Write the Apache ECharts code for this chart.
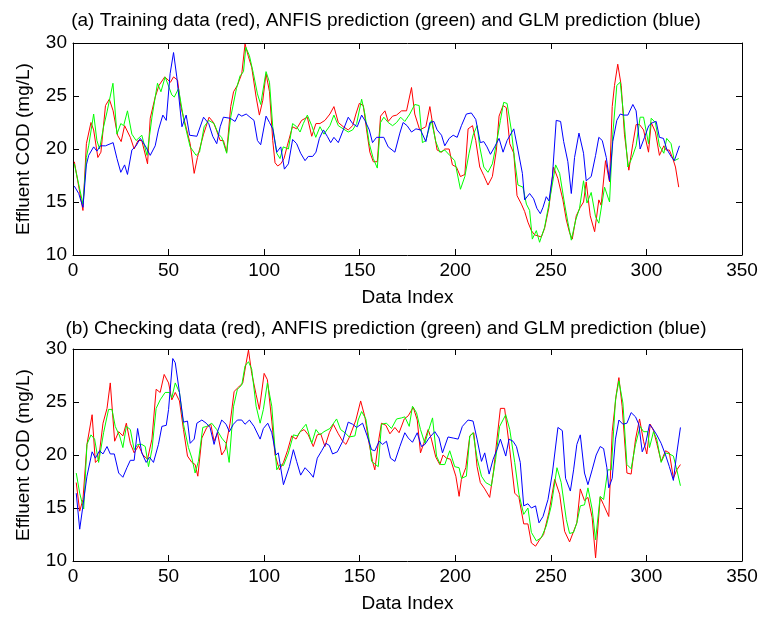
<!DOCTYPE html>
<html><head><meta charset="utf-8">
<script src="https://cdn.jsdelivr.net/npm/echarts@6/dist/echarts.min.js"></script>
<style>html,body{margin:0;padding:0;background:#fff}#c{width:772px;height:618px}</style>
</head><body><div id="c"></div>
<script>
// ---------- (a) Training data ----------
const trRedX=[0.7,5.2,7,9.4,10.8,13,14.6,17,19,21,23.3,25.2,27,28,30,32,34,36,39,40.4,43,45,48,51,52.6,54.7,56.4,59.5,61.3,63.4,65.1,68.3,71.2,73.5,75,77,78.7,80.4,82.5,84,86,88.3,90,91.8,93.5,95.8,97.5,99.3,101,102.8,104.5,105.7,107.1,108.7,110.4,112.1,114.8,117,119.6,122.6,124.9,127.1,129.2,131.8,134.4,136.5,138.8,141.4,144,146.3,148,149.8,151.9,153.6,155.3,157.1,159.2,160.9,163.2,164.9,167.2,169.3,171.9,174.5,177.1,178.8,181.4,184.6,186.7,188.4,190.5,192.8,194.5,196.8,198.5,200.6,202.7,205,206.7,209,210.7,212.8,214.9,217.1,219.4,221.5,222.9,225,226.7,228.5,230.6,232.3,234.6,236.3,238,239.8,241.5,243.3,245,246.7,249,251.4,253.7,256.3,258.1,259.8,261.2,263.3,265.4,267.1,268.5,270.6,272.9,275.1,276.3,278.6,280.7,282.1,283.3,285,286.8,288.5,290.8,292.9,294.6,296.4,298.5,301.1,302.5,304.7,306.8,309.1,310.3,312,313.8,315.2,316.9];
const trRedY=[18.8,14.2,20.5,22.5,21.8,19.2,19.7,24.1,24.7,23.6,21.3,20.7,22.2,22.1,21.1,20,20.8,20.8,18.6,22.9,24.9,26,26.8,26.3,26.8,26.5,24,21.8,20.5,17.7,19.2,21.4,23,22.5,21.8,20.8,20.8,19.7,24,25.4,26,27.1,29.9,28.7,27.7,24.9,23.2,24.6,27.1,25.4,20.8,18.7,18.4,18.6,19.1,20.3,22.1,21.9,22.7,23,21.2,22.4,22.4,22.7,23.3,24,22.5,22.1,21.8,22.2,23.3,24.3,24.1,21.8,19.7,18.8,18.8,23.1,23.6,22.6,23.1,23.2,23.6,23.6,25.8,23.3,21.8,22.1,24,22.1,19.9,19.7,20,20,18.5,18.3,17.4,17.6,21.9,22.2,20.8,18.3,17.5,16.6,17.4,19.9,23.1,24.1,23.9,20.5,19.6,15.6,14.8,14.1,13.1,12.3,11.9,11.8,11.7,12.5,14.5,18.3,17.2,15.2,13.3,12.1,11.5,13.7,14.5,15,16.9,13.7,12.2,15.2,14.7,18.9,16.9,24,26,28,26,21.4,18,20.5,22.3,22.3,21.8,19.7,22.5,21.6,19.4,20.3,19.9,19.9,19.1,18.3,16.4];
const trGreenX=[0.7,5.2,7,8.2,10.8,12.5,13.9,16,17.8,20.9,23,25,26.5,28.5,30.8,33,36,38.7,41.3,44.2,46,48.2,51.7,53,55.2,58,61.3,64.4,66.2,68.6,71,73.8,76.1,77.8,80.4,82.5,85.5,87.4,89.2,90.4,92.3,94.4,96.5,98.2,101,102.8,104.5,106.6,108.3,110,112.7,114.9,117,118.8,120.5,122.6,124.9,127,129.2,131.3,134.4,136.5,138.8,141.4,144,146.3,148.4,151,152.7,155,157.1,159.2,160.9,162.6,164.9,167.2,169.3,171.4,173.6,176.2,178.8,181.1,182.8,184.6,187.5,189.8,191.9,194.5,197.1,199.7,202.7,205,207.2,209.3,211.4,212.8,214.9,217.1,219.4,221.5,223.6,225.3,227.1,229.3,231.1,232.8,235.4,237.2,238.9,240.3,242.4,244.1,246.7,249,252.5,254.6,257.2,258.9,260.7,263,265,267.1,268.9,271.1,273.4,275.1,278.1,280.7,282.4,284.5,286.3,288,290.3,292.5,294.6,296.7,298.5,301.1,302.5,304.7,306.8,309.1,310.6,312.9,314.6,316.9];
const trGreenY=[18.6,14.8,19.2,20.3,23.3,20.8,20,22.1,23.5,26.2,21.4,22.4,22.2,23.6,21.4,20.8,21.3,19.4,23,26.2,25.4,26.8,25.1,24.9,25.7,22.7,20.2,19.4,19.7,22.1,22.7,22.4,21.4,21.1,19.6,23,25.7,26.9,27.3,29.6,28.8,27.1,25.2,24.2,27.3,26.3,22.1,19.6,19.1,20.2,20,22.4,22.1,21.6,22.4,23.2,22.2,21.1,22.1,21.4,22.2,23.2,22.2,21.9,21.6,21.8,22.4,24.7,23.3,20.5,19.1,18.2,22.5,23,22.5,22.2,22.5,23,22.6,23.3,24.2,24.1,20.6,20.8,22.7,20.7,19.7,19.9,19.4,18.9,16.2,17.4,19.6,21.3,22.2,20.2,18.3,17.8,18.6,20.5,22.7,24.4,24.3,21.8,18.9,16.6,16.4,14.8,14.2,11.5,12.3,11.2,12.6,14.8,18.5,17.7,14.8,13.1,11.4,13.3,14.4,17,14.9,15.9,13.6,13,16.4,15,21.4,26,26.3,23.3,18.3,19.2,20.3,23,23,20.5,22.9,22.5,20.3,19.6,21,20.5,18.9,19.1];
const trBlueX=[0.7,3,5.2,7,8.2,10.8,12.5,14.3,17,21,23,25,27,28.5,30.8,33,35.2,37.8,40.4,43,44.7,47,48.8,50.8,52.6,54.3,57,59.2,61,64.8,68.3,71,73.1,75.2,77,78.7,82.2,84.8,86.6,88.3,90.6,92.6,94.7,96.5,98.2,101,102.8,104.5,106.6,108.7,110.6,112.7,114.9,117,119.1,121.4,123.1,125.4,127.1,128.9,131,133,134.8,136.5,138.8,141.4,144,146.3,148.7,151,152.7,155,156.7,158.8,162.6,164.9,168.4,171,172.7,174.8,177.1,179.4,181.8,184.6,186.7,188.8,190.5,192.8,194.5,196.8,198.9,201,203.2,205.8,208.4,210.7,213.1,214.9,216.6,218.4,220.6,222.9,225,227.1,230.6,232.8,235.1,236.3,238.9,241,242.7,244.5,245.9,247.6,249,250.8,252.8,255.1,256.7,258.9,260.7,262.4,264.7,267.1,268.5,271.1,273.4,275.1,276.9,279,280.7,282.4,284.5,286.3,288,290.3,292.9,294.6,296.7,299,301.2,303.3,305.1,306.8,308.9,310.6,312.9,314.6,317.3];
const trBlueY=[16.5,15.8,14.5,18.5,19.4,20.2,19.8,20.3,20.3,20.6,19.1,17.8,18.5,17.6,19.9,20.3,21,20.3,19.4,20.3,21.8,23.2,22.7,27.1,29.1,26.8,22.1,23.2,21.3,21.2,23,22.4,21.2,20.5,22.1,23,22.9,22.6,23.3,23.1,23.3,23,22.7,20.8,20.4,23.1,22.5,21.9,19.7,20.2,18.1,18.6,20.9,20.5,19.6,18.9,19.3,19.3,19.7,21,21.8,21.2,20.6,21.1,20.6,21.8,23,22.4,22.1,23.2,22.7,21.8,20.6,21.1,21.1,20.2,19.7,21.5,22.5,22.2,21.6,21.9,21.8,20.7,22.5,22.6,21.8,21.3,20.3,21,21.3,21.1,22.2,23.3,23.4,22.8,20.6,20.7,20.2,19.5,20.2,21,19.7,20.8,21.9,19.9,17.7,15.2,15.8,15.3,14.4,13.9,14.5,15.5,15.1,17.4,22.7,22.6,20.7,18.8,15.8,19.2,21.5,19.6,17,17.4,19.4,21.1,20.8,19.2,17,20.7,22.7,23.3,23.2,23.2,24.2,23.6,20,21.1,22.2,22.5,22.6,21.1,21,20,19.3,18.9,20.3];

// ---------- (b) Checking data ----------
const ckRedX=[1.7,3.5,5.2,7.3,10,11.7,13.4,15.7,17.8,19.5,21.8,23.9,26.1,27.9,30,32,34.3,36.6,39,41.3,43.5,45.6,47.7,50,51.7,53.5,55.7,57.8,59.9,62.2,63.9,65.3,67.4,70,72.1,73.8,75.6,77.8,79.6,82.2,84.3,86.6,88.8,90.6,91.8,93.5,95.8,97.5,100,101.7,104,105.7,108,110.1,112.2,114.4,116.7,118.8,120.9,123.1,125.7,127.8,129.6,131.8,134.1,136.2,138.8,141.1,142.8,144.9,148,150.5,152.7,155,156.7,157.9,160,161.4,163.7,165.8,168.4,170.6,173.3,175.4,178,180.1,181.8,183.5,185.8,187.5,189.8,191.9,193.6,195.4,197.5,200.3,202,203.2,205.5,207.6,209.7,211.4,213.1,215.4,218,220.1,221.8,223.6,225.8,228.5,231.1,233.3,235.8,238,239.8,242,244.1,246.2,249,252,254.6,257.2,259.8,261.9,263.6,265.4,267.6,269.4,271.6,273.4,275.8,277.6,280.3,282.1,284.2,285.6,287.3,289.8,292,294.3,296.4,298.5,300.2,302,303.7,305.4,307.7,310,312,314.1,315.9,317.8];
const ckRedY=[17.4,14.7,15.8,21,23.8,19.3,19.6,23,24.4,26.8,21.3,22.2,21.8,23,21.1,20.2,20.9,20,19.6,21.5,26.2,25.9,27.6,26.8,25.2,25.9,25.1,22.4,19.9,19.3,19.1,18,21.6,22.6,22.9,21.3,22.1,20,20.5,23,26,26.4,26.8,28.7,29.9,27.7,25.7,24.3,27.7,27.1,23.2,20,18.6,19.3,20.4,21.8,21.5,22.2,22.4,21.9,20.8,21.9,22,20.8,22.1,22.9,22,21.3,21,21.8,23.3,25.1,23.6,21,19.4,18.6,21.5,23,22.8,22,22.6,22.1,23.4,23.7,24.5,23.3,20.2,21.1,22.4,21.5,19.8,19.1,20,19.7,19.6,18,16.1,17.7,18.8,21.8,22.1,18.9,17.4,16.8,16,18.6,21.5,24.4,24.4,20.5,16.4,16,13.5,13.5,11.7,11.4,12,12.5,14.6,17.7,16.3,12.8,11.8,12.8,13.6,16.8,15.7,16,14.1,10.3,16,15.3,14.2,22.2,25.7,27.3,24.6,18.3,18.2,21.5,23.4,21.3,20.1,22.9,22.3,21.1,19.4,20.4,20.2,17.8,18.6,19.1];
const ckGreenX=[1.7,3.5,5.6,7.3,9.4,11.3,13.4,16,18.6,20.4,22.1,24.4,26.1,27.9,30,32,33.8,36,37.8,39.5,41.3,43.5,45.6,48.2,50.5,51.7,53.5,55.7,57.8,60.4,62.2,63.9,65.6,67.9,70,72.6,75.2,77.8,80.1,81.7,84,86,88.3,90,91.8,93.5,95.8,97.9,99.6,101.7,104,105.7,106.6,108.3,110.1,112.7,115.3,117.4,119.6,121.9,124.9,127.1,129.2,131.3,134.4,137.9,140,142.3,144.5,147.5,149.2,151,153.2,155.3,156.2,159.7,161.4,164,166.6,169.3,171.9,173.6,175.9,177.6,179.7,181.8,184.1,185.8,188.1,190.2,192.2,194.5,197.1,199.7,202,203.2,205.8,207.6,209.3,211.4,213.7,215.9,218.9,221.1,223.2,226.4,228.5,231.1,233.3,235.8,238,239.8,242.4,245,247.6,250.2,253.2,255.4,258.1,259.8,261.9,263.6,265.4,267.6,269.4,271.6,273.4,275.8,277.6,279.8,281.6,283.8,285.6,287.7,289.8,292,294.3,296.7,298.5,300.7,301.6,303.7,305.4,307.7,310,312,314.1,315.9,317.8];
const ckGreenY=[18.3,16.4,14.9,21,21.9,21.5,19.3,22.1,24.3,24.3,22.7,21.8,20.7,22.7,22.4,20.5,21,21,20.8,18.9,20.5,24.4,25.2,25.9,25.9,25.4,26.8,25.9,22.9,20.7,19.7,18.3,19.4,22.6,22.7,23,22.4,21.6,21.1,19.3,24.6,26.2,26.6,28.4,28.8,28.1,24.6,23,24.3,26.8,24.6,20.5,18.6,19.1,19,20.2,21.9,21.8,22.4,22.9,21.1,22.4,21.9,22.2,22.5,23.4,22.4,22.1,21.7,21.8,23.3,24.1,23.4,21,19.4,18.9,22.9,23,22.5,23.4,23.5,23.6,22.7,24.6,24,22.4,21.1,22.2,23.5,19.9,19.1,19.1,20.4,18.9,18.8,17.8,18,21.8,22.1,19.7,18,17.4,17.1,19.6,22.7,23.8,22.4,19.3,16.3,14.4,15,12.7,11.9,12.2,13.3,15.2,18.8,17.4,13.9,12.6,12.7,13.6,15.2,15.3,16.9,14.9,12,16.1,15.8,18.6,18.6,25.2,27,24.9,19.1,18.7,21,22.7,22.2,22.2,20.7,22.2,21.5,19.3,20.2,20.1,19.9,18.6,17.1];
const ckBlueX=[1.7,3.5,5.2,7.3,10,11.7,13.9,15.7,17.8,19.5,21.6,23.9,26.1,28.2,30,32,33.8,36,38.3,40,42.1,44.7,46.5,48.8,50,52.2,53.5,55.7,57.8,59.9,61.3,63.4,64.8,67.4,69.7,71.7,73.8,75.6,77.8,80.1,81.8,83.9,86,88.3,90,92.3,94.7,97.9,99.6,101.9,104,106.2,107.4,110.1,113.2,115.3,117,119.1,121.4,124,125.7,127.8,130.1,132.3,134.1,135.8,138.3,141.1,144,146.3,148.4,151.5,153.9,156.2,157.9,160.2,162,164,166.1,168.4,171,173.6,175.4,177.6,180.1,182.3,184.1,186.3,189.3,191.5,193.3,196.2,198.9,201.5,203.7,206.7,209.3,211.4,213.7,215.4,217.7,219.8,221.8,223.6,226.4,228.1,230.2,232,234,235.8,238,239.8,242,243.8,245.9,248.5,250.8,253.7,256,257.7,260.2,261.9,263.6,265.4,267.6,269.4,271.6,273.7,275.8,277.6,279.3,280.3,282.1,283.8,285.6,287.7,289.8,292,294.3,296,297.8,299.5,301.6,303.3,305.4,307.7,310,312,314.1,315.9,317.8];
const ckBlueY=[16.4,13,15.2,18,20.3,19.7,20.4,20.1,20.8,20.1,20.1,18.3,17.9,18.8,19.5,19.5,22.5,20.2,19.3,19.8,19.3,21,22.7,22.8,24.3,29.1,28.7,25.9,23.1,23.2,21.1,21.5,23,23.3,23,22.6,21,22.2,23.3,22.9,22.2,22.9,23.3,23.3,22.9,23.3,22.7,21.5,22.5,23,22.1,20,20.2,17.2,18.9,20.5,19.4,18.1,18.8,18.3,17.9,19.7,20.4,21.1,20.9,20.1,20.3,21.3,23.1,22.9,22.6,23,21.8,20.5,20.4,21.3,21,21.3,19.7,19.4,20.8,22.1,21.6,21.2,22.1,20.8,21,21.6,22.2,21.6,20.2,21.7,21.6,21.5,22.7,23.3,23.2,21.5,19.4,20.2,18.2,19.6,20.5,21.5,19.9,21.5,21.3,20.8,19.3,15.2,15.4,15,15.2,13.6,14.2,15.8,18.3,22.6,22.3,17.8,16.6,18.6,21,21.9,18.3,17.2,18.6,20,20.8,20.6,18.8,16.9,17.8,21.5,23.3,22.9,23,24,23.6,22.9,20.3,21,22.9,22.5,21.9,21.1,20,18.9,17.6,20.2,22.6];

const xTicks=[0,50,100,150,200,250,300,350];
const yTicks=[10,15,20,25,30];
const titles=['(a) Training data (red), ANFIS prediction (green) and GLM prediction (blue)',
              '(b) Checking data (red), ANFIS prediction (green) and GLM prediction (blue)'];
const xName='Data Index', yName='Effluent COD (mg/L)';

function zip(xs,ys){return xs.map((x,i)=>[x,ys[i]]);}
const FONT='Liberation Sans, Arial, sans-serif';
const FS=19;
const chart=echarts.init(document.getElementById('c'),null,{renderer:'canvas'});
const grids=[{left:73,top:43,width:669,height:212},{left:73,top:349,width:669,height:212}];
const xAxes=[],yAxes=[];
[0,1].forEach(g=>{
  xAxes.push({type:'value',gridIndex:g,min:xTicks[0],max:xTicks[xTicks.length-1],interval:50,position:'bottom',
    name:xName,nameLocation:'middle',nameGap:33,nameTextStyle:{fontSize:FS,color:'#000',fontFamily:FONT},
    axisLine:{onZero:false,lineStyle:{color:'#000',width:1}},axisTick:{inside:true,length:6,lineStyle:{color:'#000'}},
    axisLabel:{fontSize:FS,color:'#000',fontFamily:FONT,margin:6},splitLine:{show:false}});
  xAxes.push({type:'value',gridIndex:g,min:0,max:350,interval:50,position:'top',
    axisLine:{onZero:false,lineStyle:{color:'#000',width:1}},axisTick:{inside:true,length:6,lineStyle:{color:'#000'}},
    axisLabel:{show:false},splitLine:{show:false}});
  yAxes.push({type:'value',gridIndex:g,min:yTicks[0],max:yTicks[yTicks.length-1],interval:5,position:'left',
    name:yName,nameLocation:'middle',nameGap:40,nameTextStyle:{fontSize:FS,color:'#000',fontFamily:FONT},
    axisLine:{onZero:false,lineStyle:{color:'#000',width:1}},axisTick:{inside:true,length:6,lineStyle:{color:'#000'}},
    axisLabel:{fontSize:FS,color:'#000',fontFamily:FONT,margin:6},splitLine:{show:false}});
  yAxes.push({type:'value',gridIndex:g,min:10,max:30,interval:5,position:'right',
    axisLine:{onZero:false,lineStyle:{color:'#000',width:1}},axisTick:{inside:true,length:6,lineStyle:{color:'#000'}},
    axisLabel:{show:false},splitLine:{show:false}});
});
function line(xi,yi,data,color){return {type:'line',xAxisIndex:xi,yAxisIndex:yi,data:data,showSymbol:false,symbol:'none',
  lineStyle:{color:color,width:1},itemStyle:{color:color},animation:false,silent:true};}
chart.setOption({
  backgroundColor:'#fff',animation:false,
  title:[{text:titles[0],left:'center',top:6,textStyle:{fontSize:FS,fontWeight:'normal',color:'#000',fontFamily:FONT}},
         {text:titles[1],left:'center',top:314,textStyle:{fontSize:FS,fontWeight:'normal',color:'#000',fontFamily:FONT}}],
  grid:grids,xAxis:xAxes,yAxis:yAxes,
  series:[
    line(0,0,zip(trRedX,trRedY),'#ff0000'),
    line(0,0,zip(trGreenX,trGreenY),'#00ff00'),
    line(0,0,zip(trBlueX,trBlueY),'#0000ff'),
    line(2,2,zip(ckRedX,ckRedY),'#ff0000'),
    line(2,2,zip(ckGreenX,ckGreenY),'#00ff00'),
    line(2,2,zip(ckBlueX,ckBlueY),'#0000ff')
  ]
});
</script></body></html>
